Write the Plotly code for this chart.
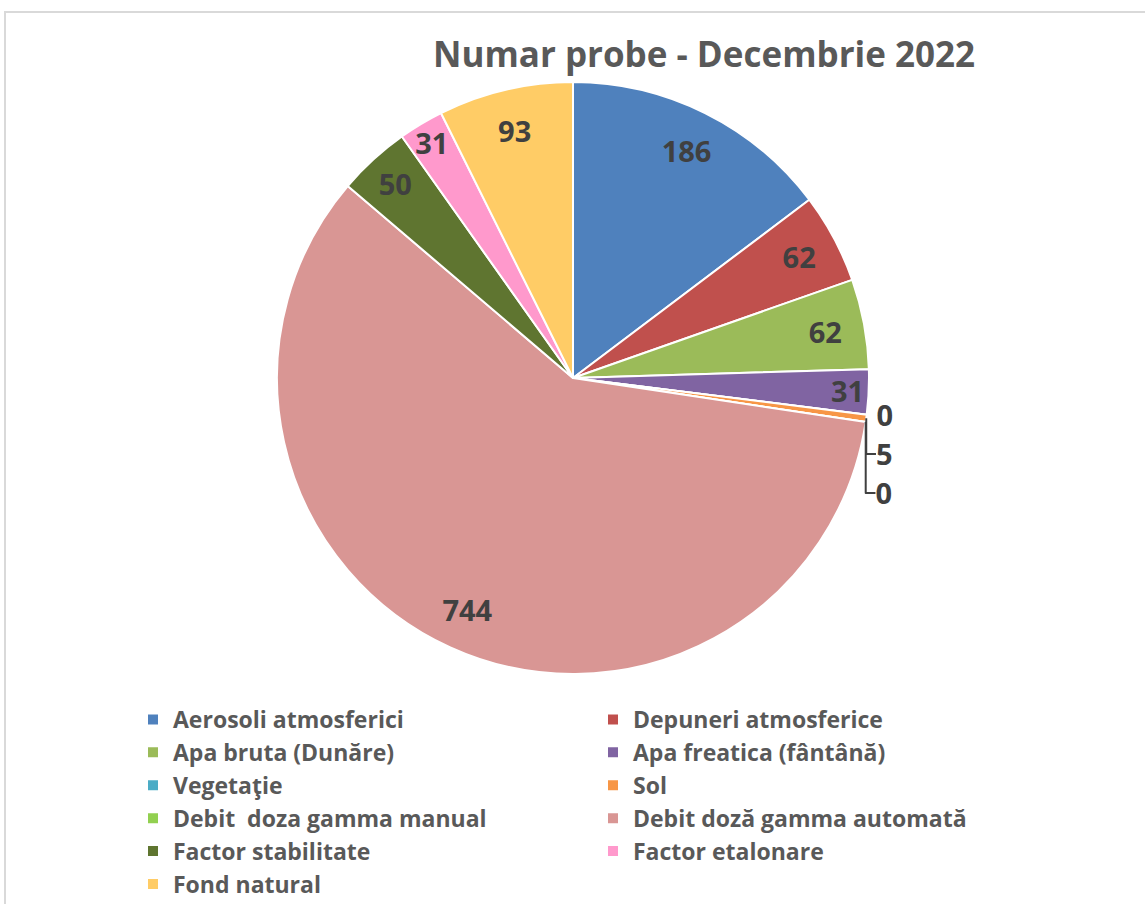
import plotly.graph_objects as go

categories = [
    "Aerosoli atmosferici",
    "Depuneri atmosferice",
    "Apa bruta (Dunăre)",
    "Apa freatica (fântână)",
    "Vegetaţie",
    "Sol",
    "Debit  doza gamma manual",
    "Debit doză gamma automată",
    "Factor stabilitate",
    "Factor etalonare",
    "Fond natural",
]
values = [186, 62, 62, 31, 0, 5, 0, 744, 50, 31, 93]
colors = [
    "#4F81BD", "#C0504D", "#9BBB59", "#8064A2", "#4BACC6", "#F79646",
    "#92D050", "#D99694", "#5F7530", "#FF99CC", "#FFCC66",
]
text_positions = ["inside", "inside", "inside", "inside", "outside", "outside",
                  "outside", "inside", "inside", "inside", "inside"]

W, H = 1145, 904
cx, cy, r = 573, 378, 296
dom = dict(x=[(cx - r) / W, (cx + r) / W], y=[1 - (cy + r) / H, 1 - (cy - r) / H])
FONT = "Open Sans"

fig = go.Figure()
# coloured slices
fig.add_trace(go.Pie(
    labels=categories, values=values, sort=False, direction="clockwise", rotation=0,
    marker=dict(colors=colors, line=dict(color="white", width=2)),
    textinfo="none", domain=dom, hoverinfo="label+value",
))
# value labels placed in the outer ring
fig.add_trace(go.Pie(
    labels=categories, values=values, sort=False, direction="clockwise", rotation=0,
    hole=0.72,
    marker=dict(colors=["rgba(0,0,0,0)"] * len(values), line=dict(width=0)),
    textinfo="value", textposition=text_positions,
    insidetextorientation="horizontal",
    textfont=dict(family=FONT, size=29, color="#404040", weight="bold"),
    outsidetextfont=dict(family=FONT, size=29, color="#404040", weight="bold"),
    domain=dom, hoverinfo="skip", showlegend=False,
))

fig.update_layout(
    width=W, height=H,
    margin=dict(l=0, r=0, t=0, b=0, autoexpand=False),
    paper_bgcolor="white",
    font=dict(family=FONT, color="#595959"),
    uniformtext=dict(minsize=29, mode="show"),
    title=dict(text="<b>Numar probe - Decembrie 2022</b>", x=704 / W, xanchor="center",
               xref="container", yref="container",
               y=1 - 55 / H, yanchor="middle",
               font=dict(family=FONT, size=35, color="#595959")),
    legend=dict(orientation="h", xref="container", yref="container",
                x=133 / W, xanchor="left", y=1 - 698 / H, yanchor="top",
                entrywidth=415, entrywidthmode="pixels",
                font=dict(family=FONT, size=23, color="#595959", weight="bold"),
                itemclick=False, traceorder="normal", bgcolor="rgba(0,0,0,0)"),
    shapes=[dict(type="rect", xref="paper", yref="paper",
                 x0=5 / W, x1=1.02, y0=-0.02, y1=1 - 12 / H,
                 line=dict(color="#D9D9D9", width=2))],
)

fig.write_html("out.html", post_script="document.body.style.margin='0px';",
               config={"displayModeBar": False})
